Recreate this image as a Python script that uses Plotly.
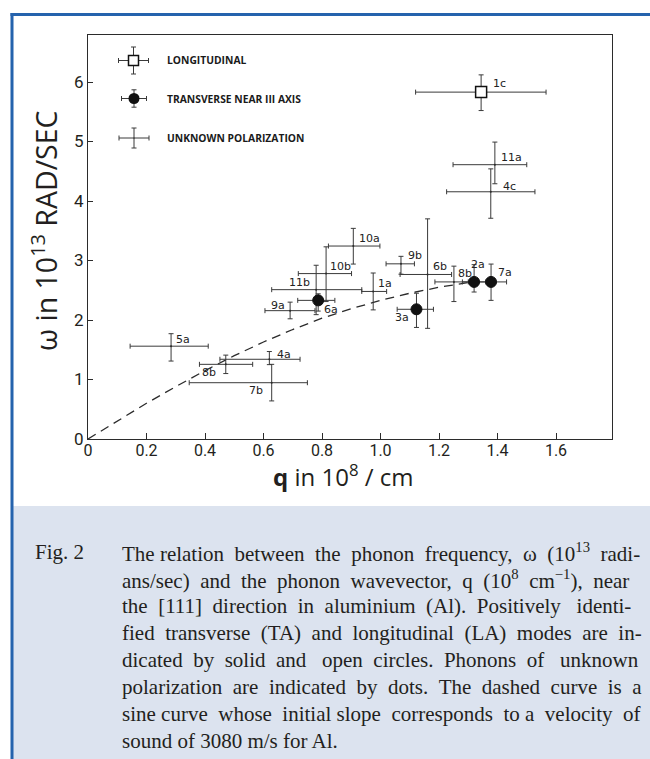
import plotly.graph_objects as go

# ---------------- data: q in 10^8 /cm, omega in 10^13 rad/s ----------------
# longitudinal (open square)
long_lab = ["1c"]
long_q = [1.344]
long_w = [5.83]
long_q_lo = [1.120]
long_q_hi = [1.566]
long_w_lo = [5.52]
long_w_hi = [6.12]

# transverse near [111] axis (filled circle)
trans_lab = ["6a", "3a", "2a", "7a"]
trans_q = [0.787, 1.123, 1.320, 1.378]
trans_w = [2.33, 2.18, 2.64, 2.64]
trans_q_lo = [0.717, 1.057, 1.280, 1.335]
trans_q_hi = [0.844, 1.181, 1.360, 1.431]
trans_w_lo = [2.15, 1.875, 2.47, 2.33]
trans_w_hi = [2.44, 2.45, 2.93, 2.94]

# unknown polarization (cross only)
unk_lab = ["11a", "4c", "10a", "9b", "6b", "10b", "8b", "11b", "1a",
           "9a", "5a", "4a", "8b", "7b"]
unk_q = [1.391, 1.377, 0.907, 1.070, 1.161, 0.814, 1.251, 0.780, 0.975,
         0.691, 0.284, 0.620, 0.471, 0.628]
unk_w = [4.61, 4.155, 3.243, 2.944, 2.765, 2.78, 2.64, 2.51, 2.48,
         2.157, 1.56, 1.34, 1.255, 0.946]
unk_q_lo = [1.248, 1.226, 0.822, 1.019, 1.067, 0.719, 1.186, 0.628, 0.936,
            0.605, 0.144, 0.451, 0.381, 0.346]
unk_q_hi = [1.500, 1.528, 0.998, 1.116, 1.243, 0.901, 1.300, 0.936, 1.021,
            0.776, 0.411, 0.725, 0.563, 0.750]
unk_w_lo = [4.29, 3.71, 2.94, 2.77, 1.86, 2.31, 2.31, 2.09, 2.17,
            2.02, 1.31, 1.25, 1.10, 0.64]
unk_w_hi = [4.99, 4.54, 3.54, 3.07, 3.70, 3.23, 2.905, 2.92, 2.79,
            2.30, 1.77, 1.47, 1.41, 1.255]

# dashed sine-like dispersion curve
curve_q = [0.0, 0.1, 0.2, 0.3, 0.4, 0.5, 0.6, 0.7, 0.8, 0.9, 1.0, 1.1, 1.2, 1.3]
curve_w = [0.0, 0.30, 0.60, 0.88, 1.15, 1.40, 1.63, 1.84, 2.03, 2.19, 2.33,
           2.45, 2.55, 2.63]

x_ticks = [0, 0.2, 0.4, 0.6, 0.8, 1.0, 1.2, 1.4, 1.6]
x_tick_text = ["0", "0.2", "0.4", "0.6", "0.8", "1.0", "1.2", "1.4", "1.6"]
y_ticks = [0, 1, 2, 3, 4, 5, 6]

legend_text = ["LONGITUDINAL", "TRANSVERSE NEAR III AXIS", "UNKNOWN POLARIZATION"]

caption_tag = "Fig. 2"
caption_lines = [
    "The relation between the phonon frequency, \u03c9 (10<sup>13</sup> radi-",
    "ans/sec) and the phonon wavevector, q (10<sup>8</sup> cm<sup>\u22121</sup>), near",
    "the [111] direction in aluminium (Al). Positively identi-",
    "fied transverse (TA) and longitudinal (LA) modes are in-",
    "dicated by solid and open circles. Phonons of unknown",
    "polarization are indicated by dots. The dashed curve is a",
    "sine curve whose initial slope corresponds to a velocity of",
    "sound of 3080 m/s for Al.",
]
# extra word spaces per line so the paragraph reads as justified
caption_pad = [7, 8, 8, 8, 10, 9, 6, 0]

# ---------------- layout geometry (pixels) ----------------
FIG_W, FIG_H = 650, 759
L, R, T, B = 88, 612, 35, 439
PW, PH = R - L, B - T
X_MAX = PW / 292.5
Y_MAX = PH / 59.5


def px(xp):
    return (xp - L) / PW


def py(yp):
    return (B - yp) / PH


def justify(line, extra):
    """Spread `extra` non-breaking spaces evenly over the word gaps."""
    words = line.split(" ")
    gaps = len(words) - 1
    if extra <= 0 or gaps <= 0:
        return line
    out = words[0]
    for i, w in enumerate(words[1:]):
        k = extra * (i + 1) // gaps - extra * i // gaps
        out += " " + "\u00a0" * k + w
    return out


INK = "#2b2b2b"
ERR = dict(color="#3a3a3a", thickness=1, width=2.5)

# label placement: (xanchor, xshift, yshift) in pixels
long_lab_pos = [("left", 10, 9)]
trans_lab_pos = [("left", 4, -9), ("right", -5, -8), ("center", 4, 17), ("left", 5, 9)]
unk_lab_pos = [("left", 4, 7), ("left", 10, 5), ("left", 4, 8), ("left", 5, 8),
               ("left", 3, 8), ("left", 2, 7), ("left", 2, 8), ("right", -4, 7),
               ("left", 3, 8), ("right", -3, 5), ("left", 3, 7), ("left", 6, 5),
               ("right", -8, -8), ("right", -7, -8)]


def err(vals, lo, hi):
    return ([h - v for v, h in zip(vals, hi)], [v - l for v, l in zip(vals, lo)])


fig = go.Figure()

# dispersion curve
fig.add_trace(go.Scatter(x=curve_q, y=curve_w, mode="lines",
                         line=dict(color=INK, width=1.3, dash="9px,6px"),
                         hoverinfo="skip", showlegend=False))

# unknown polarization
ux_p, ux_m = err(unk_q, unk_q_lo, unk_q_hi)
uy_p, uy_m = err(unk_w, unk_w_lo, unk_w_hi)
fig.add_trace(go.Scatter(
    x=unk_q, y=unk_w, mode="markers",
    marker=dict(size=2, color=INK),
    error_x=dict(type="data", symmetric=False, array=ux_p, arrayminus=ux_m, **ERR),
    error_y=dict(type="data", symmetric=False, array=uy_p, arrayminus=uy_m, **ERR),
    showlegend=False))

# transverse
tx_p, tx_m = err(trans_q, trans_q_lo, trans_q_hi)
ty_p, ty_m = err(trans_w, trans_w_lo, trans_w_hi)
fig.add_trace(go.Scatter(
    x=trans_q, y=trans_w, mode="markers",
    marker=dict(size=11, color="#111111", line=dict(color="#111111", width=1)),
    error_x=dict(type="data", symmetric=False, array=tx_p, arrayminus=tx_m, **ERR),
    error_y=dict(type="data", symmetric=False, array=ty_p, arrayminus=ty_m, **ERR),
    showlegend=False))

# longitudinal
lx_p, lx_m = err(long_q, long_q_lo, long_q_hi)
ly_p, ly_m = err(long_w, long_w_lo, long_w_hi)
fig.add_trace(go.Scatter(
    x=long_q, y=long_w, mode="markers",
    marker=dict(size=11, symbol="square", color="white", line=dict(color="#111111", width=1.5)),
    error_x=dict(type="data", symmetric=False, array=lx_p, arrayminus=lx_m, **ERR),
    error_y=dict(type="data", symmetric=False, array=ly_p, arrayminus=ly_m, **ERR),
    showlegend=False))

annotations = []
for labs, qs, ws, pos in [(long_lab, long_q, long_w, long_lab_pos),
                          (trans_lab, trans_q, trans_w, trans_lab_pos),
                          (unk_lab, unk_q, unk_w, unk_lab_pos)]:
    for lab, q, w, (anc, dx, dy) in zip(labs, qs, ws, pos):
        annotations.append(dict(x=q, y=w, xref="x", yref="y", text=lab, showarrow=False,
                                xanchor=anc, yanchor="middle", xshift=dx, yshift=dy,
                                font=dict(family="DejaVu Sans", size=11, color="#222222")))

# legend keys drawn on a pixel-space overlay axis
key_x = [133.5, 134, 134]
key_y = [60.5, 98.5, 138]
fig.add_trace(go.Scatter(
    x=[key_x[0]], y=[key_y[0]], xaxis="x2", yaxis="y2", mode="markers",
    marker=dict(size=10, symbol="square", color="white", line=dict(color="#111111", width=1.5)),
    error_x=dict(type="data", array=[15], **ERR), error_y=dict(type="data", array=[13.5], **ERR),
    showlegend=False, hoverinfo="skip"))
fig.add_trace(go.Scatter(
    x=[key_x[1]], y=[key_y[1]], xaxis="x2", yaxis="y2", mode="markers",
    marker=dict(size=11, color="#111111"),
    error_x=dict(type="data", array=[12.5], **ERR), error_y=dict(type="data", array=[8.7], **ERR),
    showlegend=False, hoverinfo="skip"))
fig.add_trace(go.Scatter(
    x=[key_x[2]], y=[key_y[2]], xaxis="x2", yaxis="y2", mode="markers",
    marker=dict(size=1, color="#111111"),
    error_x=dict(type="data", array=[15], **ERR), error_y=dict(type="data", array=[10], **ERR),
    showlegend=False, hoverinfo="skip"))
for t, yy in zip(legend_text, key_y):
    annotations.append(dict(x=px(165), y=py(yy), xref="paper", yref="paper", text=t,
                            showarrow=False, xanchor="left", yanchor="middle",
                            font=dict(family="Open Sans", size=10.3, color="#1a1a1a", weight="bold")))

# axis titles
annotations.append(dict(x=px(343), y=py(475), xref="paper", yref="paper",
                        text="<b>q</b> in 10<sup>8</sup> / cm", showarrow=False,
                        xanchor="center", yanchor="middle",
                        font=dict(family="Open Sans", size=24, color="#231f20")))
annotations.append(dict(x=px(44), y=py(231), xref="paper", yref="paper",
                        text="\u03c9 in 10<sup>13</sup> RAD/SEC", showarrow=False, textangle=-90,
                        xanchor="center", yanchor="middle",
                        font=dict(family="Open Sans", size=28.5, color="#231f20")))

# caption
CAP_FONT = dict(family="Liberation Serif", size=21, color="#231f20")
line_y = [552, 579, 606, 633, 660, 687, 714, 741]
annotations.append(dict(x=px(33), y=py(line_y[0]), xref="paper", yref="paper", text=caption_tag,
                        showarrow=False, xanchor="left", yanchor="middle", font=CAP_FONT))
for txt, pad, yy in zip(caption_lines, caption_pad, line_y):
    annotations.append(dict(x=px(120), y=py(yy), xref="paper", yref="paper",
                            text=justify(txt, pad),
                            showarrow=False, xanchor="left", yanchor="middle", font=CAP_FONT))

shapes = [
    # caption panel
    dict(type="rect", xref="paper", yref="paper", x0=px(13), x1=px(660), y0=py(506), y1=py(770),
         fillcolor="#dce3ef", line=dict(width=0), layer="below"),
    # blue frame (top and left)
    dict(type="line", xref="paper", yref="paper", x0=px(10.5), x1=px(660), y0=py(14.5), y1=py(14.5),
         line=dict(color="#2563ad", width=3)),
    dict(type="line", xref="paper", yref="paper", x0=px(12), x1=px(12), y0=py(13), y1=py(770),
         line=dict(color="#2563ad", width=3)),
]

fig.update_layout(
    width=FIG_W, height=FIG_H,
    margin=dict(l=L, r=FIG_W - R, t=T, b=FIG_H - B),
    paper_bgcolor="white", plot_bgcolor="white",
    showlegend=False,
    xaxis=dict(range=[0, X_MAX], tickvals=x_ticks, ticktext=x_tick_text,
               showgrid=False, zeroline=False, showline=True, mirror=True,
               linecolor=INK, linewidth=1.2, ticks="inside", ticklen=6, tickcolor=INK,
               ticklabelstandoff=-3,
               tickfont=dict(family="Liberation Sans Narrow, Roboto, sans-serif", size=16, color="#231f20")),
    yaxis=dict(range=[0, Y_MAX], tickvals=y_ticks,
               showgrid=False, zeroline=False, showline=True, mirror=True,
               linecolor=INK, linewidth=1.2, ticks="inside", ticklen=5, tickcolor=INK,
               tickfont=dict(family="Liberation Sans Narrow, Roboto, sans-serif", size=17, color="#231f20")),
    xaxis2=dict(range=[L, R], overlaying="x", visible=False),
    yaxis2=dict(range=[B, T], overlaying="y", visible=False),
    annotations=annotations,
    shapes=shapes,
)

fig.write_html("out.html")
